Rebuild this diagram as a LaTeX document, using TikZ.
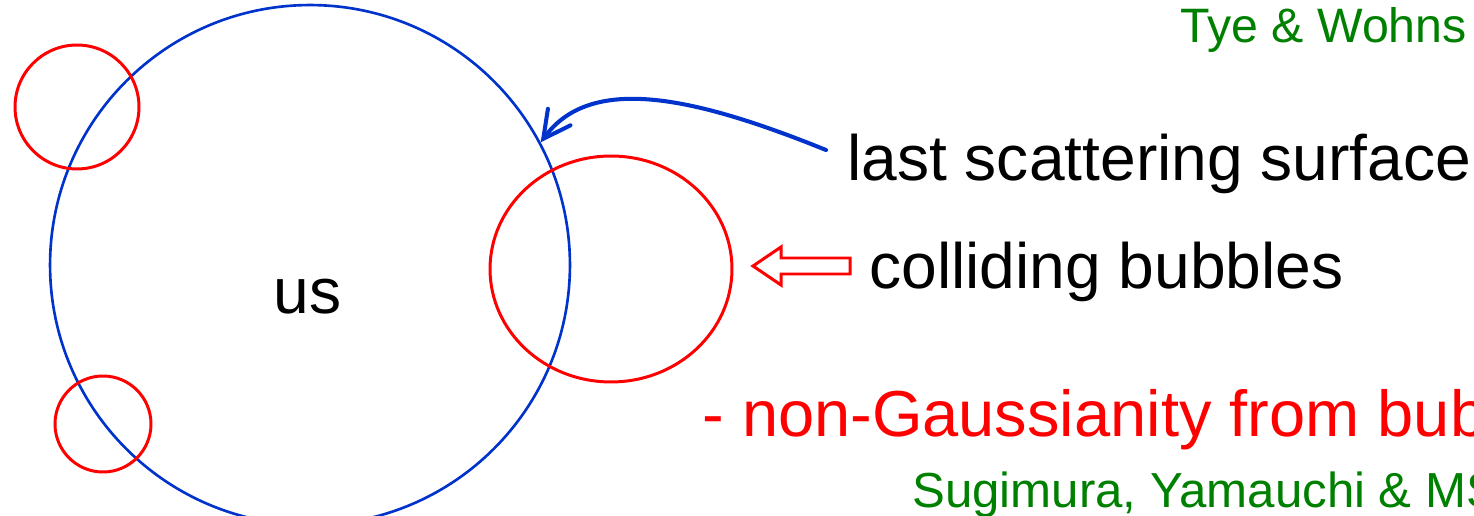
\documentclass[tikz,border=0pt]{standalone}
\usepackage{fontspec}
\setmainfont{Liberation Sans}
\usetikzlibrary{arrows.meta,shapes.geometric}
\definecolor{shellblue}{RGB}{0,51,204}
\definecolor{bubblered}{RGB}{255,0,0}
\definecolor{citegreen}{RGB}{0,128,0}

\begin{document}
\begin{tikzpicture}[x=0.02cm,y=-0.02cm,
  shell/.style={draw=shellblue, line width=1.5pt, circle, inner sep=0pt},
  bubble/.style={draw=bubblered, line width=1.7pt, inner sep=0pt},
  big/.style={font=\fontsize{36.5}{40}\selectfont, inner sep=0pt, anchor=base west},
  cite/.style={font=\fontsize{27.5}{30}\selectfont, text=citegreen, inner sep=0pt, anchor=base west},
  pointer/.style={draw=shellblue, line width=2.3pt, line cap=round,
    -{Straight Barb[length=5.4mm, width=5.6mm, line cap=round]}},
  hollowarrow/.style={draw=bubblered, line width=1.7pt, line join=miter}]
\useasboundingbox (0,0) rectangle (1474,516);
\clip (0,0) rectangle (1474,516);

% the last scattering surface around us
\node[shell, minimum size=10.4cm] (shell) at (310,265) {};

% bubbles colliding with our bubble
\node[bubble, circle, minimum size=2.48cm] (b1) at (77,107) {};
\node[bubble, circle, minimum size=1.92cm] (b2) at (103,424) {};
\node[bubble, ellipse, minimum width=4.84cm, minimum height=4.52cm] (b3) at (611,269) {};

% labels
\node[big] (us) at (273,314) {us};
\node[big] (lss) at (847,181) {last scattering surface};
\node[big] (cb) at (869,289) {colliding bubbles};
\node[big, text=bubblered, font=\fontsize{37}{40}\selectfont] (ng) at (702,437) {- non-Gaussianity from bubbles};
\node[cite] (tw) at (1180,43) {Tye \& Wohns};
\node[cite, font=\fontsize{28}{30}\selectfont] (sym) at (912,508) {Sugimura, Yamauchi \& MS};

% pointer to the last scattering surface
\coordinate (tail) at (826,150);
\draw[pointer] (tail) .. controls (690,95) and (590,75) .. (shell.28);

% hollow arrow pointing at the colliding bubble
\coordinate (tip) at (753,266);
\draw[hollowarrow] (tip) -- (781,247) -- (781,258) -- (850,258) -- (850,274)
  -- (781,274) -- (781,285) -- cycle;
\end{tikzpicture}
\end{document}
